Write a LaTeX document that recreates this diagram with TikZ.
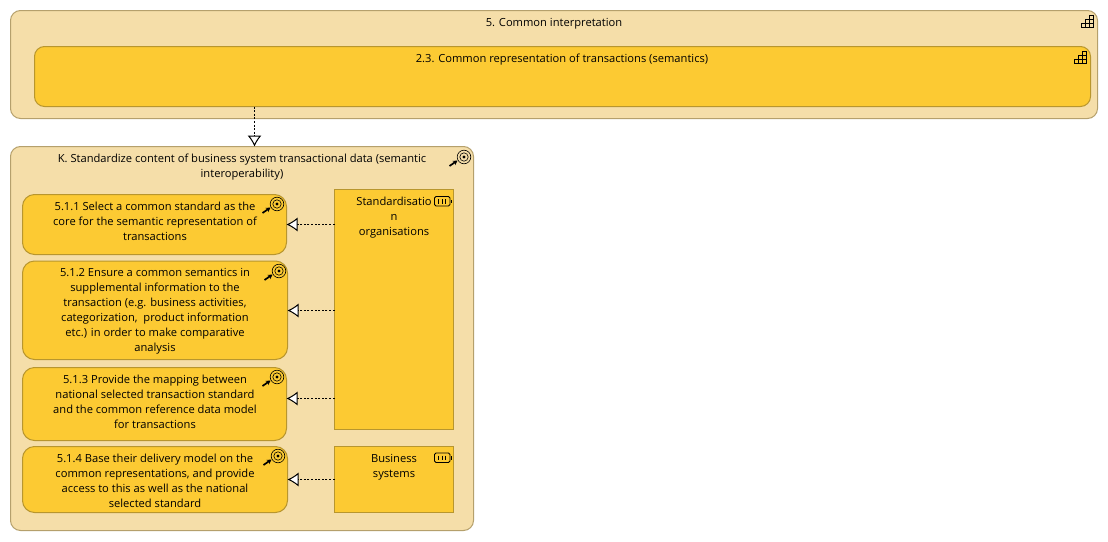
\documentclass[tikz,border=0pt]{standalone}
\usepackage{fontspec}
\setmainfont{Open Sans}
\usetikzlibrary{arrows.meta}
\definecolor{cream}{HTML}{F5DEA9}
\definecolor{amber}{HTML}{FCCA33}
\definecolor{creamline}{HTML}{B5A06C}
\definecolor{amberline}{HTML}{B8962E}
\tikzset{
  x=1pt,y=-1pt,
  box/.style={draw,line width=1pt,inner sep=0pt,outer sep=0pt,anchor=north west},
  groupbox/.style={box,rounded corners=10pt,fill=cream,draw=creamline},
  innerbox/.style={box,rounded corners=10pt,fill=amber,draw=amberline},
  goalbox/.style={box,rounded corners=12pt,fill=amber,draw=amberline},
  resbox/.style={box,fill=amber,draw=amberline},
  txt/.style={font=\fontsize{11.15}{15}\selectfont,align=center,inner sep=0pt,anchor=north,text=black},
  realize/.style={draw=black,line width=.8pt,dash pattern=on 2pt off 1.6pt,-{Latex[open,fill=white,length=11pt,width=14pt,line width=1pt]}},
  icon/.style={draw=black,line width=.9pt,line cap=butt},
  stairs/.pic={
    \draw[icon] (0,-.5) -- (12.5,-.5) (0,-4.5) -- (12.5,-4.5) (4,-8.5) -- (12.5,-8.5) (8,-12.5) -- (12.5,-12.5)
      (0,-.5) -- (0,-4.5) (4,-.5) -- (4,-8.5) (8,-.5) -- (8,-12.5) (12.5,-.5) -- (12.5,-12.5);
  },
  battery/.pic={
    \draw[icon,line width=.8pt,rounded corners=1.5pt] (0,0) rectangle (15.5,9.5);
    \draw[black,line width=.6pt] (4.2,2.5) -- (4.2,7) (7.5,2.5) -- (7.5,7) (10.8,2.5) -- (10.8,7);
    \fill[black] (16,3) rectangle (17.5,6.5);
  },
  goalicon/.pic={
    \draw[black,line width=.6pt] (0,0) circle[radius=6.8pt];
    \draw[black,line width=.6pt] (0,0) circle[radius=4.2pt];
    \fill[black] (0,0) circle[radius=1.6pt];
    \draw[black,line width=1.7pt,-{Stealth[length=4.5pt,width=5pt]}] (-14.5,9) -- (-6.5,3.5);
  },
}
\begin{document}
\begin{tikzpicture}
\useasboundingbox (0,0) rectangle (1108,541);
\fill[white] (0,0) rectangle (1108,541);

\node[groupbox,minimum width=1087pt,minimum height=108pt] (common) at (10.5,10.5) {};
\node[innerbox,minimum width=1056pt,minimum height=60pt] (repr) at (34.5,46.5) {};
\node[groupbox,minimum width=463pt,minimum height=384pt] (std) at (10.5,146.5) {};
\node[goalbox,minimum width=264pt,minimum height=60pt] (g1) at (22.5,194.5) {};
\node[goalbox,minimum width=265pt,minimum height=98.5pt] (g2) at (22.5,261) {};
\node[goalbox,minimum width=264pt,minimum height=73pt] (g3) at (22.5,367.5) {};
\node[goalbox,minimum width=265pt,minimum height=66pt] (g4) at (22.5,446.5) {};
\node[resbox,minimum width=119pt,minimum height=240pt] (org) at (334.5,189.5) {};
\node[resbox,minimum width=119pt,minimum height=66pt] (biz) at (334.5,446.5) {};

\node[txt] (t0) at (554,18) {5. Common interpretation};
\node[txt] (t1) at (562,54) {2.3. Common representation of transactions (semantics)};
\node[txt] (t2) at (242,154) {K. Standardize content of business system transactional data (semantic\\interoperability)};
\node[txt] (t3) at (155,202) {5.1.1 Select a common standard as the\\core for the semantic representation of\\transactions};
\node[txt] (t4) at (155,268) {5.1.2 Ensure a common semantics in\\supplemental information to the\\transaction (e.g. business activities,\\categorization,\ \ product information\\etc.) in order to make comparative\\analysis};
\node[txt] (t5) at (155,375) {5.1.3 Provide the mapping between\\national selected transaction standard\\and the common reference data model\\for transactions};
\node[txt] (t6) at (155,454) {5.1.4 Base their delivery model on the\\common representations, and provide\\access to this as well as the national\\selected standard};
\node[txt] (t7) at (394,197) {Standardisatio\\n\\organisations};
\node[txt] (t8) at (394,454) {Business\\systems};

\coordinate (c0) at (254.5,0);
\coordinate (c1) at (0,224.5);
\coordinate (c2) at (0,310.5);
\coordinate (c3) at (0,398.5);
\coordinate (c4) at (0,479.5);
\draw[realize] (repr.south -| c0) -- (std.north -| c0);
\draw[realize] (org.west |- c1) -- (g1.east |- c1);
\draw[realize] (org.west |- c2) -- (g2.east |- c2);
\draw[realize] (org.west |- c3) -- (g3.east |- c3);
\draw[realize] (biz.west |- c4) -- (g4.east |- c4);

\pic at (1081,28) {stairs};
\pic at (1074,64) {stairs};
\pic at (464,157) {goalicon};
\pic at (277,204) {goalicon};
\pic at (279,271) {goalicon};
\pic at (277,377) {goalicon};
\pic at (278,456) {goalicon};
\pic at (434.5,196.5) {battery};
\pic at (434.5,453) {battery};
\end{tikzpicture}
\end{document}
